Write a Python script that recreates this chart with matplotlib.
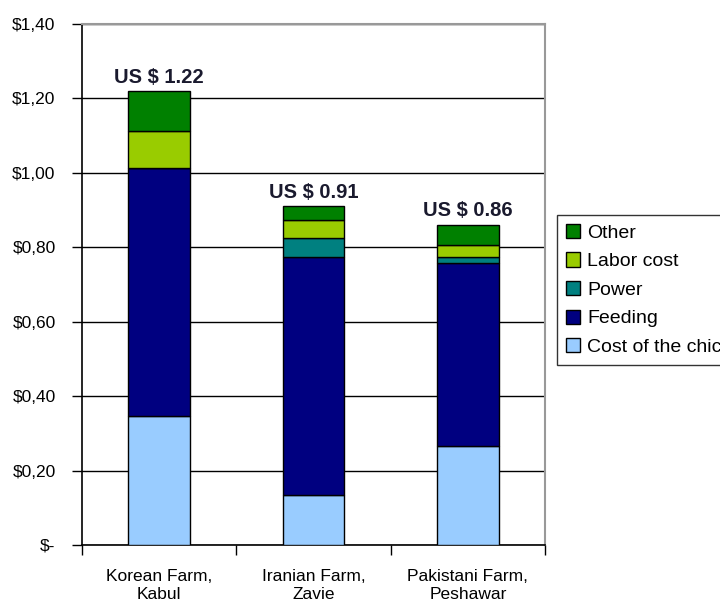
import matplotlib
matplotlib.use("Agg")
import matplotlib.pyplot as plt
import numpy as np

plt.rcParams['font.family'] = ['Liberation Sans', 'DejaVu Sans']

farms = ["Korean Farm,\nKabul", "Iranian Farm,\nZavie", "Pakistani Farm,\nPeshawar"]
chick = [0.347, 0.134, 0.266]
feeding = [0.666, 0.640, 0.492]
power = [0.0, 0.051, 0.016]
labor = [0.100, 0.049, 0.032]
other = [0.107, 0.037, 0.054]
totals = [1.22, 0.91, 0.86]
total_labels = ["US $ 1.22", "US $ 0.91", "US $ 0.86"]
yticks = [0.0, 0.2, 0.4, 0.6, 0.8, 1.0, 1.2, 1.4]
ytick_labels = ["$-", "$0,20", "$0,40", "$0,60", "$0,80", "$1,00", "$1,20", "$1,40"]

series = [
    ("Cost of the chick", chick, "#99CCFF"),
    ("Feeding", feeding, "#000080"),
    ("Power", power, "#008080"),
    ("Labor cost", labor, "#99CC00"),
    ("Other", other, "#008000"),
]

fig = plt.figure(figsize=(7.2, 6.03), dpi=100)
ax = fig.add_axes([82 / 720, 1 - 545 / 603, (545 - 82) / 720, (545 - 24) / 603])

x = np.arange(len(farms))
bottom = np.zeros(len(farms))
handles = []
for name, vals, color in series:
    vals = np.array(vals)
    h = ax.bar(x, vals, width=0.4, bottom=bottom, color=color,
               edgecolor="black", linewidth=1.0, label=name, zorder=3)
    handles.append(h)
    bottom = bottom + vals

for xi, t, lab in zip(x, totals, total_labels):
    ax.text(xi, t + 0.012, lab, ha="center", va="bottom", fontsize=14.5,
            fontweight="bold", color="#1a1a2e")

ax.set_xlim(-0.5, len(farms) - 0.5)
ax.set_ylim(0, 1.4)
ax.set_yticks(yticks)
ax.set_yticklabels(ytick_labels, fontsize=12.5)
ax.yaxis.grid(True, color="black", linewidth=1.0, zorder=0)
ax.set_axisbelow(True)

ax.set_xticks(x)
ax.set_xticklabels(farms, fontsize=12.5, linespacing=1.25)
ax.tick_params(axis="x", length=0, pad=17)
ax.set_xticks(np.arange(-0.5, len(farms), 1.0), minor=True)
ax.tick_params(axis="x", which="minor", length=7, width=1.0, direction="out")
ax.tick_params(axis="y", length=7, width=1.0, direction="out", pad=12)

for side in ("top", "right"):
    ax.spines[side].set_color("#999999")
    ax.spines[side].set_linewidth(1.5)
for side in ("left", "bottom"):
    ax.spines[side].set_color("black")
    ax.spines[side].set_linewidth(1.2)

leg = fig.legend(handles[::-1], [s[0] for s in series][::-1],
                 loc="upper left", bbox_to_anchor=(557 / 720, 1 - 215 / 603),
                 fontsize=14, frameon=True, fancybox=False, edgecolor="black",
                 handlelength=0.75, handleheight=0.75, handletextpad=0.35,
                 labelspacing=0.55, borderpad=0.45, borderaxespad=0)
leg.get_frame().set_linewidth(1.0)

fig.savefig("out.png", dpi=100)
